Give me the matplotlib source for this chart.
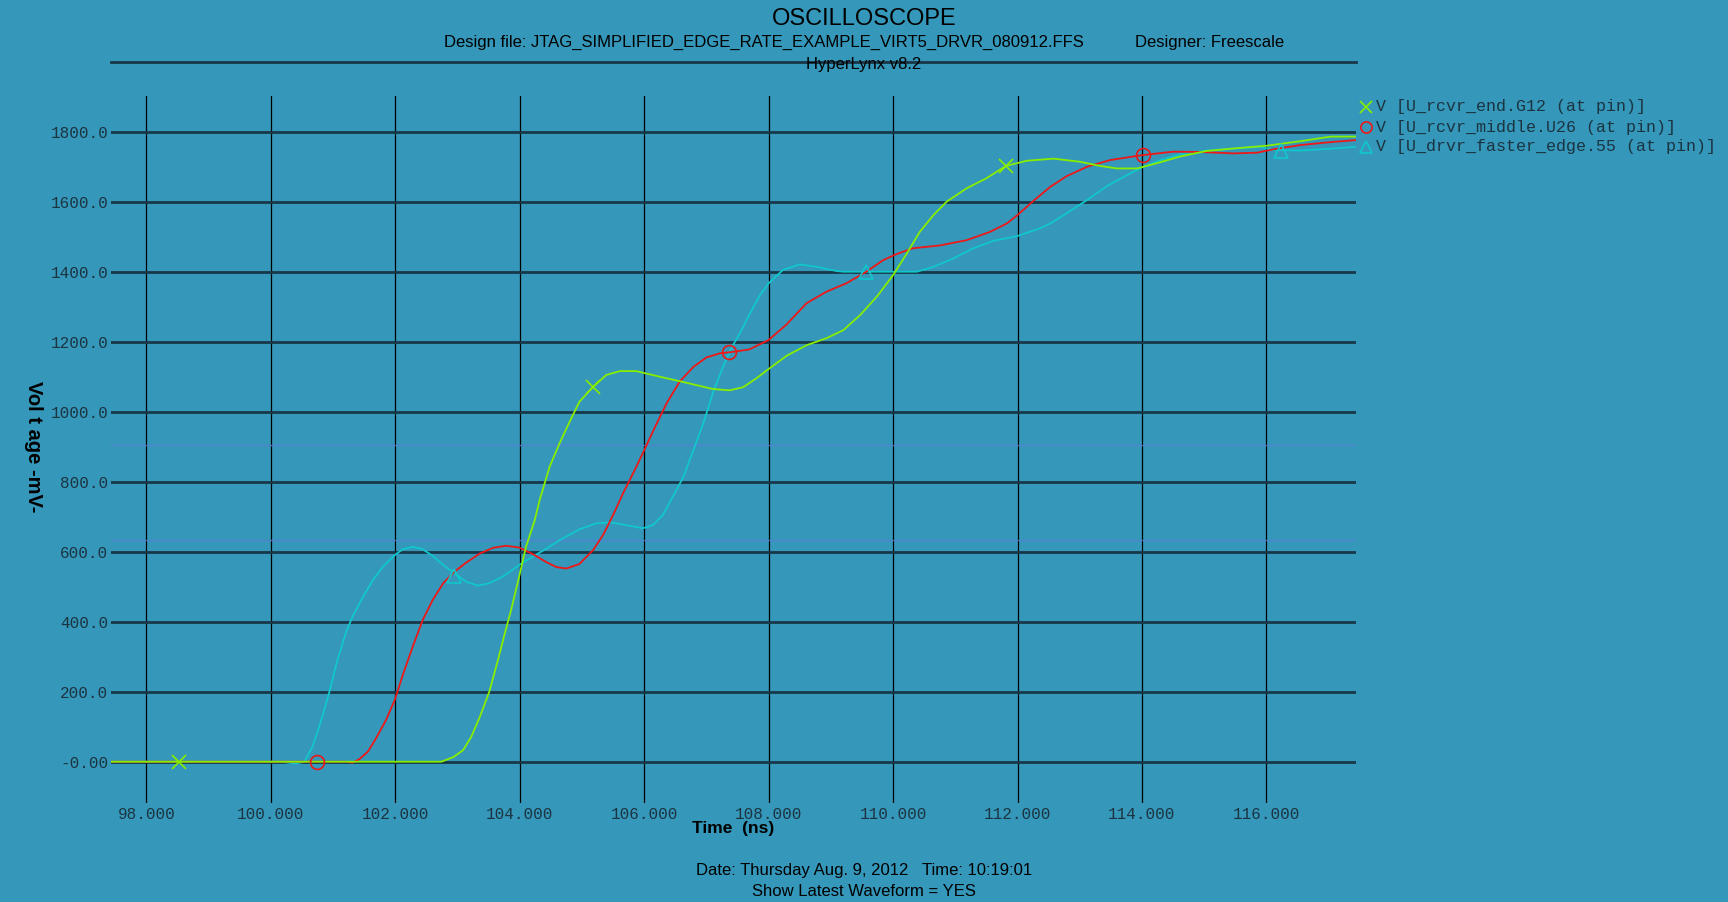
import matplotlib.pyplot as plt
from matplotlib.lines import Line2D

# ---------------- data ----------------
# V [U_rcvr_end.G12 (at pin)]
t_end = [97.43, 102.74, 102.93, 103.09, 103.22, 103.36, 103.51, 103.65, 103.76, 103.86,
         103.99, 104.10, 104.24, 104.32, 104.48, 104.64, 104.80, 104.96, 105.18, 105.39,
         105.61, 105.87, 106.25, 106.67, 107.10, 107.37, 107.59, 107.80, 108.0, 108.29,
         108.61, 108.93, 109.20, 109.47, 109.74, 110.0, 110.22, 110.43, 110.65, 110.86,
         111.18, 111.50, 111.81, 112.15, 112.58, 113.01, 113.33, 113.60, 113.92, 114.24,
         114.61, 115.04, 115.47, 116.01, 116.55, 117.03, 117.44]
v_end = [0, 0, 13, 33, 71, 129, 200, 291, 367, 433,
         529, 614, 690, 748, 843, 910, 971, 1029, 1071, 1105,
         1116, 1116, 1100, 1083, 1065, 1061, 1070, 1095, 1122, 1160,
         1190, 1210, 1233, 1276, 1329, 1390, 1452, 1514, 1562, 1600,
         1638, 1667, 1702, 1717, 1723, 1714, 1702, 1695, 1695, 1710,
         1729, 1745, 1752, 1760, 1773, 1786, 1786]

# V [U_rcvr_middle.U26 (at pin)]
t_mid = [97.43, 101.21, 101.31, 101.42, 101.56, 101.69, 101.85, 101.99, 102.12, 102.28,
         102.44, 102.60, 102.77, 102.95, 103.14, 103.36, 103.57, 103.78, 103.99, 104.21,
         104.43, 104.59, 104.75, 104.96, 105.18, 105.34, 105.50, 105.66, 105.85, 106.01,
         106.17, 106.36, 106.57, 106.79, 107.0, 107.22, 107.43, 107.69, 108.0, 108.28,
         108.61, 108.93, 109.25, 109.57, 109.84, 110.05, 110.32, 110.75, 111.18, 111.56,
         111.83, 112.0, 112.26, 112.53, 112.79, 113.12, 113.49, 114.0, 114.51, 114.94,
         115.47, 115.85, 116.12, 116.55, 117.08, 117.44]
v_mid = [0, 0, -3, 7, 29, 67, 119, 176, 248, 329,
         405, 462, 510, 543, 569, 595, 611, 617, 612, 593,
         570, 556, 552, 565, 605, 648, 705, 767, 834, 894,
         955, 1024, 1086, 1128, 1155, 1167, 1171, 1178, 1205, 1248,
         1310, 1343, 1367, 1400, 1433, 1450, 1467, 1475, 1490, 1514,
         1538, 1562, 1603, 1643, 1673, 1700, 1719, 1733, 1743, 1742,
         1738, 1740, 1750, 1762, 1771, 1776]

# V [U_drvr_faster_edge.55 (at pin)]
t_drv = [97.43, 100.16, 100.30, 100.40, 100.54, 100.67, 100.81, 100.94, 101.07, 101.21,
         101.31, 101.48, 101.64, 101.80, 101.99, 102.12, 102.28, 102.44, 102.60, 102.77,
         102.95, 103.14, 103.33, 103.51, 103.73, 103.99, 104.21, 104.43, 104.64, 104.96,
         105.23, 105.45, 105.71, 105.98, 106.14, 106.30, 106.46, 106.63, 106.79, 106.95,
         107.11, 107.27, 107.41, 107.54, 107.70, 107.86, 108.0, 108.23, 108.50, 108.77,
         109.09, 109.20, 110.38, 110.65, 110.97, 111.29, 111.61, 112.0, 112.36, 112.53,
         112.79, 113.12, 113.44, 113.76, 114.0, 114.30, 114.61, 115.04, 115.47, 115.90,
         116.10, 116.55, 117.08, 117.44]
v_drv = [0, 0, -3, -5, 0, 43, 119, 200, 291, 371,
         414, 471, 519, 557, 590, 607, 614, 607, 588, 562,
         538, 514, 503, 510, 529, 562, 586, 609, 633, 664,
         681, 684, 676, 667, 676, 705, 757, 814, 890, 967,
         1057, 1130, 1185, 1225, 1281, 1333, 1367, 1405, 1421, 1414,
         1402, 1400, 1400, 1414, 1438, 1467, 1488, 1502, 1524, 1538,
         1567, 1605, 1645, 1676, 1698, 1719, 1735, 1746, 1752, 1757,
         1748, 1746, 1752, 1757]

# marker positions on each waveform
mk_end_t = [98.53, 105.18, 111.81]
mk_end_v = [0, 1071, 1702]
mk_mid_t = [100.74, 107.36, 114.01]
mk_mid_v = [0, 1170, 1733]
mk_drv_t = [102.95, 109.57, 116.23]
mk_drv_v = [530, 1400, 1746]

thresholds = [905, 633]  # faint blue lines

xticks = [98, 100, 102, 104, 106, 108, 110, 112, 114, 116]
yticks = [0, 200, 400, 600, 800, 1000, 1200, 1400, 1600, 1800]
ytick_labels = ['-0.00', '200.0', '400.0', '600.0', '800.0', '1000.0', '1200.0',
                '1400.0', '1600.0', '1800.0']

labels = ['V [U_rcvr_end.G12 (at pin)]',
          'V [U_rcvr_middle.U26 (at pin)]',
          'V [U_drvr_faster_edge.55 (at pin)]']

# ---------------- style ----------------
BG = '#3597b9'
DARK = '#1b3442'
C_END = '#88ee00'
C_MID = '#ee1818'
C_DRV = '#10c8cc'
W, H = 1728, 902

fig = plt.figure(figsize=(W / 100, H / 100), dpi=100, facecolor=BG)
ax = fig.add_axes([111 / W, 1 - 803 / H, (1356 - 111) / W, (803 - 96) / H])
ax.set_facecolor(BG)
ax.set_xlim(97.43, 117.44)
ax.set_ylim(-118, 1902)
for s in ax.spines.values():
    s.set_visible(False)

# grid
for x in xticks:
    ax.axvline(x, color='black', lw=0.9, zorder=1)
for y in yticks:
    ax.axhline(y, color='#173848', lw=2.0, zorder=1)
for y in thresholds:
    ax.axhline(y, color='#5a7fd8', lw=1.0, alpha=0.8, zorder=1)

# waveforms
ax.plot(t_drv, v_drv, color=C_DRV, lw=1.3, zorder=3)
ax.plot(t_mid, v_mid, color=C_MID, lw=1.3, zorder=4)
ax.plot(t_end, v_end, color=C_END, lw=1.3, zorder=5)
ax.plot(mk_end_t, mk_end_v, ls='none', marker='x', ms=10, mew=1.2, color=C_END, zorder=6)
ax.plot(mk_mid_t, mk_mid_v, ls='none', marker='o', ms=10, mew=1.2, mfc='none', mec=C_MID, zorder=6)
ax.plot(mk_drv_t, mk_drv_v, ls='none', marker='^', ms=10, mew=1.2, mfc='none', mec=C_DRV, zorder=6)

ax.set_xticks(xticks)
ax.set_xticklabels(['%.3f' % x for x in xticks])
ax.set_yticks(yticks)
ax.set_yticklabels(ytick_labels)
ax.tick_params(length=0, colors=DARK, labelsize=11.5)
ax.tick_params(axis='x', pad=3)
ax.tick_params(axis='y', pad=2)
for lb in ax.get_xticklabels() + ax.get_yticklabels():
    lb.set_family('Liberation Mono')

# header
fig.text(864 / W, 1 - 19 / H, 'OSCILLOSCOPE', ha='center', va='center',
         fontsize=17, family='Liberation Sans', color='black')
fig.text(444 / W, 1 - 42 / H,
         'Design file: JTAG_SIMPLIFIED_EDGE_RATE_EXAMPLE_VIRT5_DRVR_080912.FFS',
         ha='left', va='center', fontsize=12, family='Liberation Sans', color='black')
fig.text(1135 / W, 1 - 42 / H, 'Designer: Freescale', ha='left', va='center',
         fontsize=12, family='Liberation Sans', color='black')
fig.text(864 / W, 1 - 64 / H, 'HyperLynx v8.2', ha='center', va='center',
         fontsize=12, family='Liberation Sans', color='black')
fig.add_artist(Line2D([111 / W, 1356 / W], [1 - 62 / H, 1 - 62 / H],
                      color='#173848', lw=2.0))

# axis titles
fig.text(733 / W, 1 - 829 / H, 'Time  (ns)', ha='center', va='center',
         fontsize=12.5, fontweight='bold', family='Liberation Sans', color='black')
fig.text(33 / W, 1 - 447 / H, 'Vol t age -mV-', ha='center', va='center', rotation=-90,
         fontsize=14.5, fontweight='bold', family='Liberation Sans', color='black')

# footer
fig.text(864 / W, 1 - 871 / H, 'Date: Thursday Aug. 9, 2012   Time: 10:19:01',
         ha='center', va='center', fontsize=12, family='Liberation Sans', color='black')
fig.text(864 / W, 1 - 891 / H, 'Show Latest Waveform = YES',
         ha='center', va='center', fontsize=12, family='Liberation Sans', color='black')

# legend
leg_colors = [C_END, C_MID, C_DRV]
leg_markers = ['x', 'o', '^']
for i, (lab, c, m) in enumerate(zip(labels, leg_colors, leg_markers)):
    yy = 1 - (107 + 20 * i) / H
    fig.add_artist(Line2D([1366 / W], [yy], marker=m, ms=8, mew=1.2, ls='none',
                          color=c, mfc='none' if m != 'x' else c, mec=c))
    fig.text(1376 / W, yy, lab, ha='left', va='center', fontsize=12,
             family='Liberation Mono', color=DARK)

fig.savefig('out.png', dpi=100, facecolor=BG)
